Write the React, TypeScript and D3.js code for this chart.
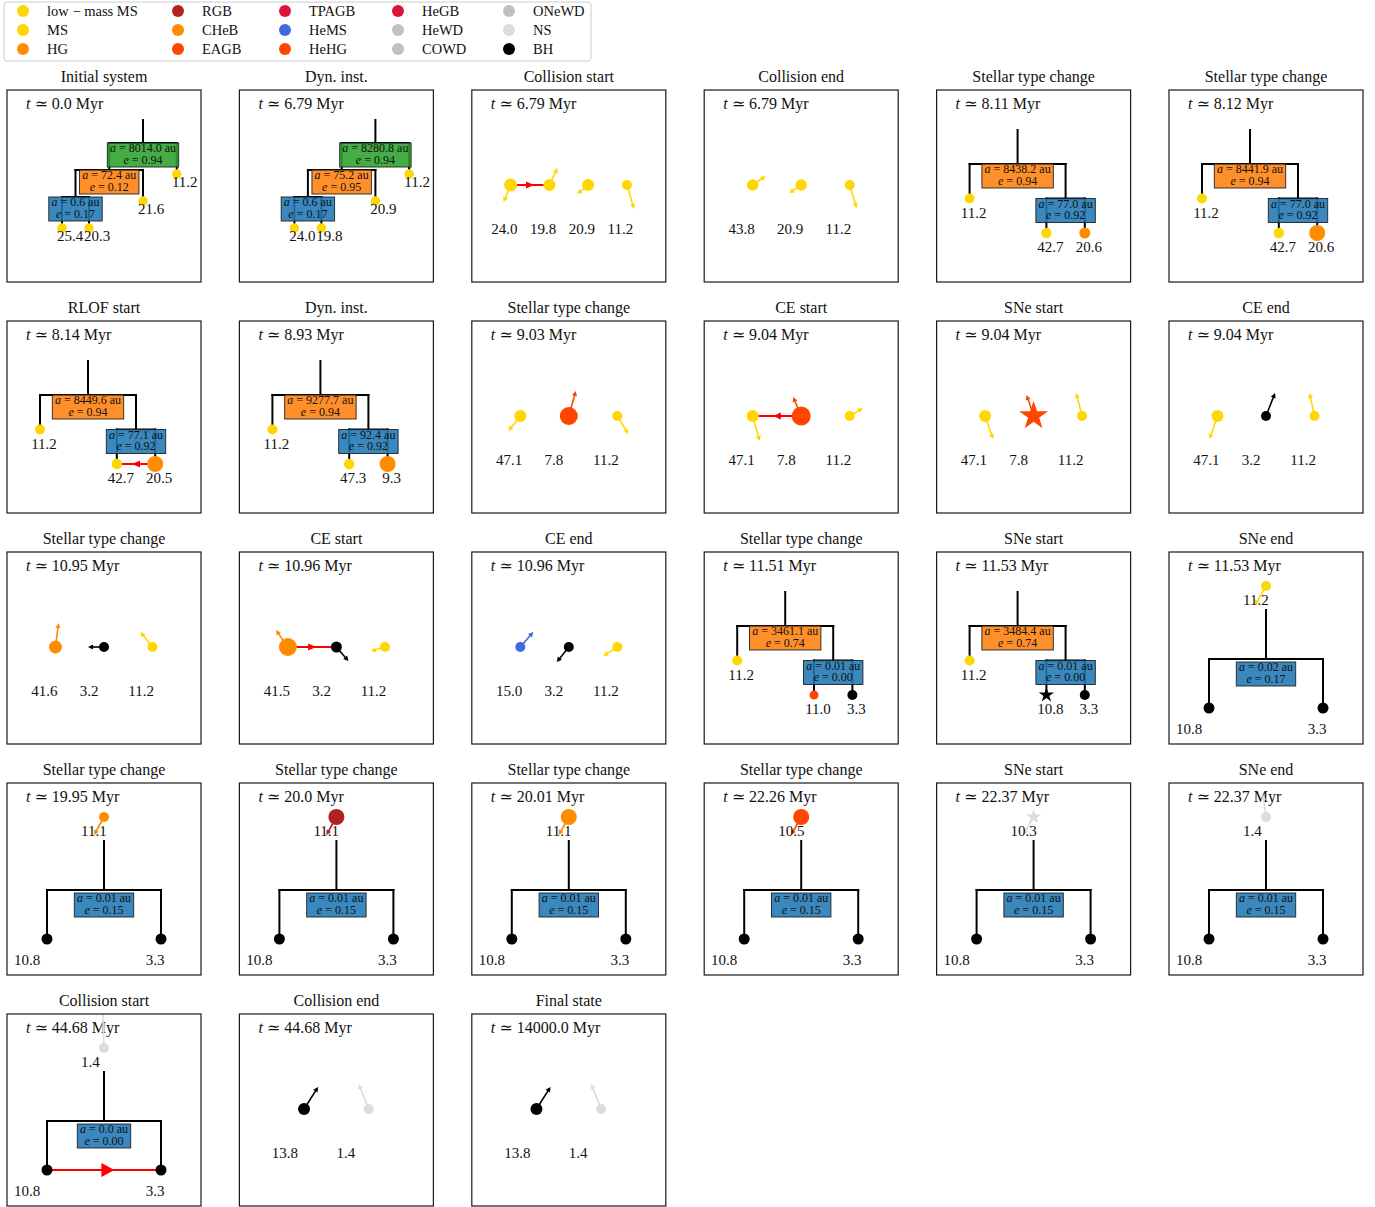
import React from 'react';
import * as d3 from 'd3';

// ---------- legend / stellar types ----------
const TYPE_KEYS = ['lmMS', 'MS', 'HG', 'RGB', 'CHeB', 'EAGB', 'TPAGB', 'HeMS', 'HeHG', 'HeGB', 'HeWD', 'COWD', 'ONeWD', 'NS', 'BH'];
const TYPE_NAMES = ['low − mass MS', 'MS', 'HG', 'RGB', 'CHeB', 'EAGB', 'TPAGB', 'HeMS', 'HeHG', 'HeGB', 'HeWD', 'COWD', 'ONeWD', 'NS', 'BH'];
const TYPE_COLORS = ['#FFD700', '#FFD700', '#FF8C00', '#B22222', '#FF8C00', '#FF4500', '#DC143C', '#4169E1', '#FF4500', '#DC143C', '#C0C0C0', '#C0C0C0', '#C0C0C0', '#DCDCDC', '#000000'];

// ---------- panels ----------
const TITLES = [
  'Initial system', 'Dyn. inst.', 'Collision start', 'Collision end', 'Stellar type change', 'Stellar type change',
  'RLOF start', 'Dyn. inst.', 'Stellar type change', 'CE start', 'SNe start', 'CE end',
  'Stellar type change', 'CE start', 'CE end', 'Stellar type change', 'SNe start', 'SNe end',
  'Stellar type change', 'Stellar type change', 'Stellar type change', 'Stellar type change', 'SNe start', 'SNe end',
  'Collision start', 'Collision end', 'Final state',
];
const TIMES = [
  '0.0', '6.79', '6.79', '6.79', '8.11', '8.12',
  '8.14', '8.93', '9.03', '9.04', '9.04', '9.04',
  '10.95', '10.96', '10.96', '11.51', '11.53', '11.53',
  '19.95', '20.0', '20.01', '22.26', '22.37', '22.37',
  '44.68', '44.68', '14000.0',
];
// quad: 4-body nested hierarchy, triple: 3-body hierarchy, single: unbound star above a binary, free: unbound stars
const KINDS = [
  'quad', 'quad', 'free', 'free', 'triple', 'triple',
  'triple', 'triple', 'free', 'free', 'free', 'free',
  'free', 'free', 'free', 'triple', 'triple', 'single',
  'single', 'single', 'single', 'single', 'single', 'single',
  'single', 'free', 'free',
];
// orbits, outermost first: semi-major axis label (au) and eccentricity
const ORBIT_A: string[][] = [
  ['8014.0', '72.4', '0.6'], ['8280.8', '75.2', '0.6'], [], [], ['8438.2', '77.0'], ['8441.9', '77.0'],
  ['8449.6', '77.1'], ['9277.7', '92.4'], [], [], [], [],
  [], [], [], ['3461.1', '0.01'], ['3484.4', '0.01'], ['0.02'],
  ['0.01'], ['0.01'], ['0.01'], ['0.01'], ['0.01'], ['0.01'],
  ['0.0'], [], [],
];
const ORBIT_E: number[][] = [
  [0.94, 0.12, 0.17], [0.94, 0.95, 0.17], [], [], [0.94, 0.92], [0.94, 0.92],
  [0.94, 0.92], [0.94, 0.92], [], [], [], [],
  [], [], [], [0.74, 0.0], [0.74, 0.0], [0.17],
  [0.15], [0.15], [0.15], [0.15], [0.15], [0.15],
  [0.0], [], [],
];
const MASSES: number[][] = [
  [25.4, 20.3, 21.6, 11.2], [24.0, 19.8, 20.9, 11.2], [24.0, 19.8, 20.9, 11.2], [43.8, 20.9, 11.2], [11.2, 42.7, 20.6], [11.2, 42.7, 20.6],
  [11.2, 42.7, 20.5], [11.2, 47.3, 9.3], [47.1, 7.8, 11.2], [47.1, 7.8, 11.2], [47.1, 7.8, 11.2], [47.1, 3.2, 11.2],
  [41.6, 3.2, 11.2], [41.5, 3.2, 11.2], [15.0, 3.2, 11.2], [11.2, 11.0, 3.3], [11.2, 10.8, 3.3], [11.2, 10.8, 3.3],
  [11.1, 10.8, 3.3], [11.1, 10.8, 3.3], [11.1, 10.8, 3.3], [10.5, 10.8, 3.3], [10.3, 10.8, 3.3], [1.4, 10.8, 3.3],
  [1.4, 10.8, 3.3], [13.8, 1.4], [13.8, 1.4],
];
const TYPES: string[][] = [
  ['MS', 'MS', 'MS', 'MS'], ['MS', 'MS', 'MS', 'MS'], ['MS', 'MS', 'MS', 'MS'], ['MS', 'MS', 'MS'], ['MS', 'MS', 'HG'], ['MS', 'MS', 'CHeB'],
  ['MS', 'MS', 'CHeB'], ['MS', 'MS', 'CHeB'], ['MS', 'EAGB', 'MS'], ['MS', 'EAGB', 'MS'], ['MS', 'EAGB', 'MS'], ['MS', 'BH', 'MS'],
  ['CHeB', 'BH', 'MS'], ['CHeB', 'BH', 'MS'], ['HeMS', 'BH', 'MS'], ['MS', 'HeHG', 'BH'], ['MS', 'BH', 'BH'], ['MS', 'BH', 'BH'],
  ['HG', 'BH', 'BH'], ['RGB', 'BH', 'BH'], ['CHeB', 'BH', 'BH'], ['EAGB', 'BH', 'BH'], ['NS', 'BH', 'BH'], ['NS', 'BH', 'BH'],
  ['NS', 'BH', 'BH'], ['BH', 'NS'], ['BH', 'NS'],
];
// relative stellar size (marker scale)
const SIZES: number[][] = [
  [0.95, 0.95, 0.95, 0.95], [0.95, 0.95, 0.95, 0.95], [1.3, 1.2, 1.2, 1.0], [1.15, 1.15, 1.0], [1.0, 1.05, 1.1], [1.0, 1.05, 1.6],
  [1.0, 1.05, 1.6], [1.0, 1.05, 1.6], [1.2, 1.8, 1.0], [1.2, 1.9, 1.0], [1.2, 1.9, 1.0], [1.2, 1.0, 1.0],
  [1.3, 1.0, 1.0], [1.8, 1.1, 1.0], [1.0, 1.0, 1.0], [1.0, 0.9, 1.0], [1.0, 1.0, 1.0], [1.0, 1.1, 1.1],
  [1.0, 1.1, 1.1], [1.6, 1.1, 1.1], [1.6, 1.1, 1.1], [1.6, 1.1, 1.1], [1.0, 1.1, 1.1], [1.0, 1.1, 1.1],
  [1.0, 1.1, 1.1], [1.2, 1.0], [1.2, 1.0],
];
// velocity vectors of unbound stars (screen units, y down); empty = none
const VELOCITIES: number[][][] = [
  [], [], [[-7, 17], [8, -17], [-11, 9], [7, 24]], [[13, -9], [-12, 8], [7, 23]], [], [],
  [], [], [[-12, 15], [7, -25], [11, 18]], [[7, 25], [-8, -19], [13, -8]], [[8, 23], [-7, -21], [-6, -23]], [[-8, 23], [9, -23], [-5, -23]],
  [[3, -24], [-16, 0], [-12, -15]], [[-12, -17], [12, 14], [-14, 4]], [[13, -15], [-12, 15], [-14, 9]], [], [], [[-11, 19]],
  [[-10, 18]], [[-10, 18]], [[-10, 18]], [[-10, 18]], [[-10, 18]], [[-3, -22]],
  [[-2, -62]], [[14, -22], [-10, -25]], [[14, -22], [-10, -25]],
];
// supernova star symbols: [panel, star]
const SN_MARKERS: number[][] = [[10, 1], [16, 1], [22, 0]];
// mass transfer / collision arrows: [panel, from, to, big]
const TRANSFERS: number[][] = [[2, 0, 1, 0], [6, 2, 1, 0], [9, 1, 0, 0], [13, 0, 1, 0], [24, 1, 2, 1]];

const FONT = "'Liberation Serif', 'DejaVu Serif', serif";
const W = 194;
const H = 192;
const NODE_COLORS: Record<string, string[]> = {
  quad: ['#2ca02c', '#ff7f0e', '#1f77b4'],
  triple: ['#ff7f0e', '#1f77b4'],
  single: ['#1f77b4'],
};

const colX = d3.scaleLinear().domain([0, 5]).range([7, 7 + 5 * 232.4]);
const rowY = d3.scaleLinear().domain([0, 4]).range([90, 90 + 4 * 231]);
const rScale = d3.scaleLinear().domain([0, 1]).range([0, 5]);
const vScale = d3.scaleLinear().domain([0, 1]).range([0, 1]);

let ctx: CanvasRenderingContext2D | null = null;
function textW(s: string, size: number) {
  if (!ctx) ctx = document.createElement('canvas').getContext('2d');
  if (!ctx) return s.length * size * 0.5;
  ctx.font = `${size}px 'Liberation Serif'`;
  return ctx.measureText(s).width;
}

function colorOf(t: string) {
  return TYPE_COLORS[TYPE_KEYS.indexOf(t)];
}

function starPath(R: number) {
  const pts: [number, number][] = [];
  for (let i = 0; i < 10; i++) {
    const ang = -Math.PI / 2 + (i * Math.PI) / 5;
    const r = i % 2 === 0 ? R : R * 0.382;
    pts.push([r * Math.cos(ang), r * Math.sin(ang)]);
  }
  return (d3.line()(pts) || '') + 'Z';
}

function headPath(tx: number, ty: number, ux: number, uy: number, L: number, hw: number) {
  const bx = tx - ux * L;
  const by = ty - uy * L;
  const px = -uy;
  const py = ux;
  return `M${tx},${ty}L${bx + px * hw},${by + py * hw}L${bx - px * hw},${by - py * hw}Z`;
}

type P = { x: number; y: number };

function layout(kind: string, n: number) {
  const pos: P[] = [];
  const lines: number[][] = [];
  const nodes: { cx: number; top: number }[] = [];
  const labels: { x: number; y: number; anchor: string }[] = [];
  if (kind === 'quad') {
    const u = 13.5, X = 136, L = [53, 80, 107], step = 27, drop = 4;
    const oX = X - 2.5 * u, bX = oX - 2.5 * u;
    nodes.push({ cx: X, top: L[0] }, { cx: oX, top: L[1] }, { cx: bX, top: L[2] });
    pos.push({ x: bX - u, y: L[2] + step + drop }, { x: bX + u, y: L[2] + step + drop }, { x: oX + 2.5 * u, y: L[2] + drop }, { x: X + 2.5 * u, y: L[1] + drop });
    lines.push([X, 30, X, L[0]]);
    lines.push([oX, L[0], pos[3].x, L[0]], [oX, L[0], oX, L[1]], [pos[3].x, L[0], pos[3].x, pos[3].y]);
    lines.push([bX, L[1], pos[2].x, L[1]], [bX, L[1], bX, L[2]], [pos[2].x, L[1], pos[2].x, pos[2].y]);
    lines.push([pos[0].x, L[2], pos[1].x, L[2]], [pos[0].x, L[2], pos[0].x, pos[0].y], [pos[1].x, L[2], pos[1].x, pos[1].y]);
    pos.forEach((p) => labels.push({ x: p.x + 8, y: p.y + 8, anchor: 'middle' }));
  } else if (kind === 'triple') {
    const u = 19.2, X = 81, L = [74, 108.5, 143];
    const bX = X + 2.5 * u;
    nodes.push({ cx: X, top: L[0] }, { cx: bX, top: L[1] });
    pos.push({ x: X - 2.5 * u, y: L[1] }, { x: bX - u, y: L[2] }, { x: bX + u, y: L[2] });
    lines.push([X, 40, X, L[0]]);
    lines.push([pos[0].x, L[0], bX, L[0]], [pos[0].x, L[0], pos[0].x, L[1]], [bX, L[0], bX, L[1]]);
    lines.push([pos[1].x, L[1], pos[2].x, L[1]], [pos[1].x, L[1], pos[1].x, L[2]], [pos[2].x, L[1], pos[2].x, L[2]]);
    pos.forEach((p) => labels.push({ x: p.x + 4, y: p.y + 14, anchor: 'middle' }));
  } else if (kind === 'single') {
    const cx = W / 2, bar = 107, dx = 57, leafY = 156;
    nodes.push({ cx, top: bar + 3 });
    pos.push({ x: cx, y: 34 }, { x: cx - dx, y: leafY }, { x: cx + dx, y: leafY });
    lines.push([cx, 58, cx, bar], [cx - dx, bar, cx + dx, bar], [cx - dx, bar, cx - dx, leafY], [cx + dx, bar, cx + dx, leafY]);
    labels.push({ x: pos[0].x - 23, y: pos[0].y + 14, anchor: 'start' });
    labels.push({ x: pos[1].x - 20, y: pos[1].y + 21, anchor: 'middle' });
    labels.push({ x: pos[2].x - 6, y: pos[2].y + 21, anchor: 'middle' });
  } else {
    const sp = W / (n + 1);
    for (let i = 0; i < n; i++) {
      const p = { x: sp * (i + 1), y: 95 };
      pos.push(p);
      labels.push({ x: p.x - sp / 2, y: p.y + 44, anchor: 'start' });
    }
  }
  return { pos, lines, nodes, labels };
}

function Panel({ i }: { i: number }) {
  const x0 = colX(i % 6);
  const y0 = rowY(Math.floor(i / 6));
  const kind = KINDS[i];
  const masses = MASSES[i];
  const n = masses.length;
  const { pos, lines, nodes, labels } = layout(kind, n);
  const vels = VELOCITIES[i];
  const transfers = TRANSFERS.filter((t) => t[0] === i);
  const isSN = (k: number) => SN_MARKERS.some((s) => s[0] === i && s[1] === k);
  const clipId = `clip-${i}`;
  return (
    <g transform={`translate(${x0},${y0})`}>
      <defs>
        <clipPath id={clipId}>
          <rect x={0} y={0} width={W} height={H} />
        </clipPath>
      </defs>
      <rect x={0} y={0} width={W} height={H} fill="white" />
      <text x={W / 2} y={-8} textAnchor="middle" fontSize={16} fontFamily={FONT} fill="#111">{TITLES[i]}</text>
      <text x={19} y={19} fontSize={16} fontFamily={FONT} fill="#111">
        <tspan fontStyle="italic">t</tspan>
        <tspan> ≃ {TIMES[i]} Myr</tspan>
      </text>
      <g clipPath={`url(#${clipId})`}>
        {lines.map((l, k) => (
          <line key={'l' + k} x1={l[0]} y1={l[1]} x2={l[2]} y2={l[3]} stroke="#000" strokeWidth={2} strokeLinecap="square" />
        ))}
        {nodes.map((nd, k) => {
          const a = `a = ${ORBIT_A[i][k]} au`;
          const w = textW(a, 12) + 6;
          return (
            <g key={'n' + k}>
              <rect x={nd.cx - w / 2} y={nd.top} width={w} height={24} fill={NODE_COLORS[kind][k]} fillOpacity={0.88} stroke="#222" strokeWidth={0.9} />
              <text x={nd.cx} y={nd.top + 9} textAnchor="middle" fontSize={12} fontFamily={FONT} fill="#111">
                <tspan fontStyle="italic">a</tspan>
                <tspan>{` = ${ORBIT_A[i][k]} au`}</tspan>
              </text>
              <text x={nd.cx} y={nd.top + 20.5} textAnchor="middle" fontSize={12} fontFamily={FONT} fill="#111">
                <tspan fontStyle="italic">e</tspan>
                <tspan>{` = ${ORBIT_E[i][k].toFixed(2)}`}</tspan>
              </text>
            </g>
          );
        })}
        {transfers.map((t, k) => {
          const A = pos[t[1]], B = pos[t[2]];
          const dx = B.x - A.x, dy = B.y - A.y;
          const len = Math.hypot(dx, dy);
          const ux = dx / len, uy = dy / len;
          const big = t[3] === 1;
          const L = big ? 13 : 8, hw = big ? 7 : 3.5;
          const mx = (A.x + B.x) / 2 + ux * L * (big ? 0.8 : 0.5);
          const my = (A.y + B.y) / 2 + uy * L * (big ? 0.8 : 0.5);
          return (
            <g key={'t' + k}>
              <line x1={A.x} y1={A.y} x2={B.x} y2={B.y} stroke="#ff0000" strokeWidth={2.2} />
              <path d={headPath(mx, my, ux, uy, L, hw)} fill="#ff0000" />
            </g>
          );
        })}
        {vels.map((v, k) => {
          const p = pos[k];
          const col = colorOf(TYPES[i][k]);
          const vx = vScale(v[0]), vy = vScale(v[1]);
          const len = Math.hypot(vx, vy);
          const ux = vx / len, uy = vy / len;
          const tx = p.x + vx, ty = p.y + vy;
          return (
            <g key={'v' + k}>
              <line x1={p.x} y1={p.y} x2={tx - ux * 4} y2={ty - uy * 4} stroke={col} strokeWidth={1.6} />
              <path d={headPath(tx, ty, ux, uy, 5, 2.6)} fill={col} />
            </g>
          );
        })}
        {pos.map((p, k) => {
          const col = colorOf(TYPES[i][k]);
          const r = rScale(SIZES[i][k]);
          return isSN(k) ? (
            <path key={'s' + k} d={starPath(r * 1.6)} transform={`translate(${p.x},${p.y})`} fill={col} />
          ) : (
            <circle key={'s' + k} cx={p.x} cy={p.y} r={r} fill={col} />
          );
        })}
        {labels.map((lb, k) => (
          <text key={'m' + k} x={lb.x} y={lb.y + 5.3} textAnchor={lb.anchor} fontSize={15} fontFamily={FONT} fill="#111">
            {masses[k].toFixed(1)}
          </text>
        ))}
      </g>
      <rect x={0} y={0} width={W} height={H} fill="none" stroke="#1a1a1a" strokeWidth={1.2} />
    </g>
  );
}

function Legend() {
  const colXs = [23, 178, 285, 398, 509];
  const rowYs = [11, 30, 49];
  return (
    <g>
      <rect x={4} y={2} width={587} height={59} rx={3} fill="white" stroke="#cccccc" strokeWidth={1} />
      {TYPE_NAMES.map((name, k) => {
        const c = Math.floor(k / 3), r = k % 3;
        return (
          <g key={name}>
            <circle cx={colXs[c]} cy={rowYs[r]} r={6} fill={TYPE_COLORS[k]} />
            <text x={colXs[c] + 24} y={rowYs[r] + 4.8} fontSize={14.5} fontFamily={FONT} fill="#111">{name}</text>
          </g>
        );
      })}
    </g>
  );
}

export default function App() {
  return (
    <svg width={1375} height={1207} style={{ position: 'absolute', left: 0, top: 0, background: 'white' }}>
      <rect x={0} y={0} width={1375} height={1207} fill="white" />
      {TITLES.map((_, i) => (
        <Panel key={i} i={i} />
      ))}
      <Legend />
    </svg>
  );
}
